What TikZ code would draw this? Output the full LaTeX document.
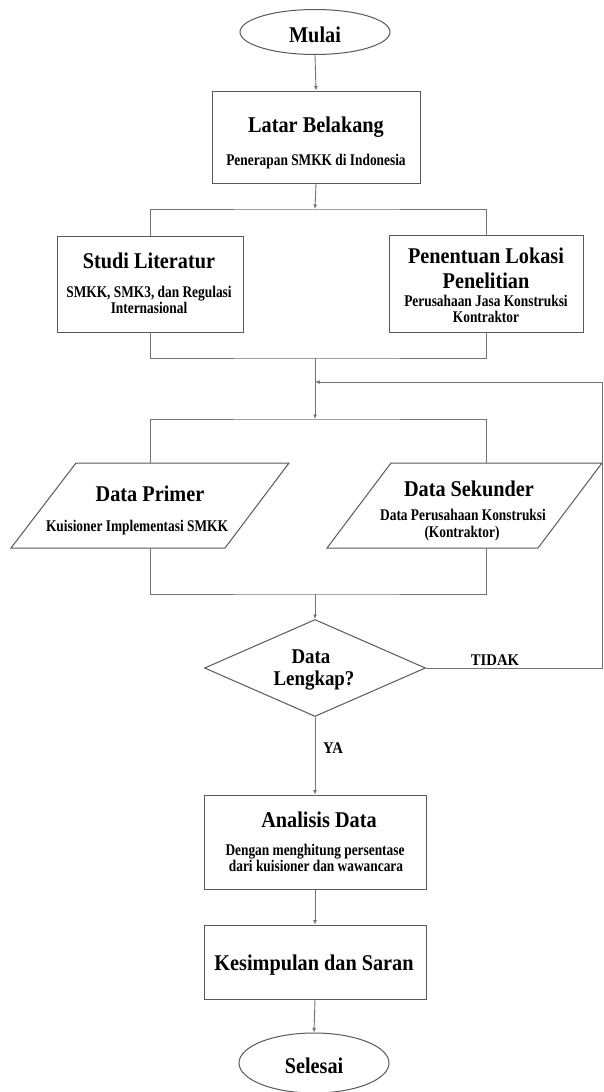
\documentclass[tikz,border=0pt]{standalone}
\usepackage{fontspec}
\usetikzlibrary{shapes.geometric,arrows.meta}
\newfontfamily\tfont{Liberation Serif}[FakeStretch=0.9]
\newfontfamily\sfont{Liberation Serif}[FakeStretch=0.82]
\begin{document}
\begin{tikzpicture}[x=1pt,y=-1pt,
  ln/.style={draw=black!55, line width=0.9pt},
  arr/.style={ln, -{Latex[length=4.5pt,width=4pt]}},
  box/.style={draw=black!65, line width=1pt, rectangle, inner sep=0pt},
  termin/.style={draw=black!65, line width=1pt, ellipse, inner sep=0pt, minimum width=150pt},
  ttl/.style={font=\tfont\bfseries\fontsize{22.5}{26}\selectfont, inner sep=0pt, anchor=base},
  dtl/.style={font=\tfont\bfseries\fontsize{21}{24}\selectfont, inner sep=0pt, anchor=base},
  sub/.style={font=\sfont\bfseries\fontsize{16.3}{19}\selectfont, inner sep=0pt, anchor=base},
  lbl/.style={font=\tfont\bfseries\fontsize{16.3}{19}\selectfont, inner sep=0pt, anchor=base}]
\useasboundingbox (0,0) rectangle (603,1092);
\fill[white] (0,0) rectangle (603,1092);

% shapes
\node[termin, minimum height=45pt] (mulai) at (315,32) {};
\node[box, minimum width=208pt, minimum height=92pt] (latar) at (316,137) {};
\node[box, minimum width=186pt, minimum height=96pt] (studi) at (150,284) {};
\node[box, minimum width=194pt, minimum height=97pt] (pen) at (486,283.5) {};
\draw[box] (76,463) -- (289,463) -- (225,548) -- (11,548) -- cycle;
\draw[box] (391,463) -- (602,463) -- (538,548) -- (327,548) -- cycle;
\coordinate (prTop) at (150,463);
\coordinate (prBot) at (150,548);
\coordinate (skTop) at (486,463);
\coordinate (skBot) at (486,548);
\node[diamond, draw=black!65, line width=1pt, inner sep=0pt, minimum width=221pt, minimum height=97pt] (dec) at (315,668) {};
\node[box, minimum width=222pt, minimum height=94pt] (anal) at (315,842) {};
\node[box, minimum width=222pt, minimum height=74pt] (kes) at (315,962) {};
\node[termin, minimum height=60pt] (sel) at (314,1063) {};

% texts
\node[ttl] (tmulai) at (315,42) {Mulai};
\node[ttl] (tlatar) at (316,132) {Latar Belakang};
\node[sub] (slatar) at (316,165) {Penerapan SMKK di Indonesia};
\node[ttl] (tstudi) at (149,268) {Studi Literatur};
\node[sub] (sstudi1) at (149,297) {SMKK, SMK3, dan Regulasi};
\node[sub] (sstudi2) at (149,313) {Internasional};
\node[ttl] (tpen1) at (486,263) {Penentuan Lokasi};
\node[ttl] (tpen2) at (486,288) {Penelitian};
\node[sub] (spen1) at (486,306) {Perusahaan Jasa Konstruksi};
\node[sub] (spen2) at (486,322) {Kontraktor};
\node[ttl] (tpr) at (150,501) {Data Primer};
\node[sub] (spr) at (137,531) {Kuisioner Implementasi SMKK};
\node[ttl] (tsk) at (469,496) {Data Sekunder};
\node[sub] (ssk1) at (463,520) {Data Perusahaan Konstruksi};
\node[sub] (ssk2) at (462,537) {(Kontraktor)};
\node[dtl] (tdec1) at (311,663) {Data};
\node[dtl] (tdec2) at (314,685) {Lengkap?};
\node[lbl] (ttidak) at (495,665) {TIDAK};
\node[lbl] (tya) at (333,753) {YA};
\node[ttl] (tanal) at (319,827) {Analisis Data};
\node[sub] (sanal1) at (315,855) {Dengan menghitung persentase};
\node[sub] (sanal2) at (316,871) {dari kuisioner dan wawancara};
\node[ttl] (tkes) at (314,970) {Kesimpulan dan Saran};
\node[ttl] (tsel) at (314,1073) {Selesai};

% junctions
\coordinate (j1) at (315,209);
\coordinate (j2) at (315,358);
\coordinate (jr) at (315,382);
\coordinate (j3) at (315,419);
\coordinate (j4) at (315,594);
\coordinate (rc) at (602,668);
\coordinate (rt) at (602,382);

% connectors
\draw[arr] (mulai.south) -- (latar.north);
\draw[arr] (latar.south) -- (j1);
\draw[ln] (studi.north) |- (j1) -| (pen.north);
\draw[ln] (studi.south) |- (j2) -| (pen.south);
\draw[arr] (j2) -- (j3);
\draw[ln] (prTop) |- (j3) -| (skTop);
\draw[ln] (prBot) |- (j4) -| (skBot);
\draw[arr] (j4) -- (dec.north);
\draw[arr] (dec.south) -- (anal.north);
\draw[arr] (anal.south) -- (kes.north);
\draw[arr] (kes.south) -- (sel.north);
\draw[arr] (dec.east) -- (rc) -- (rt) -- (jr);
\end{tikzpicture}
\end{document}
